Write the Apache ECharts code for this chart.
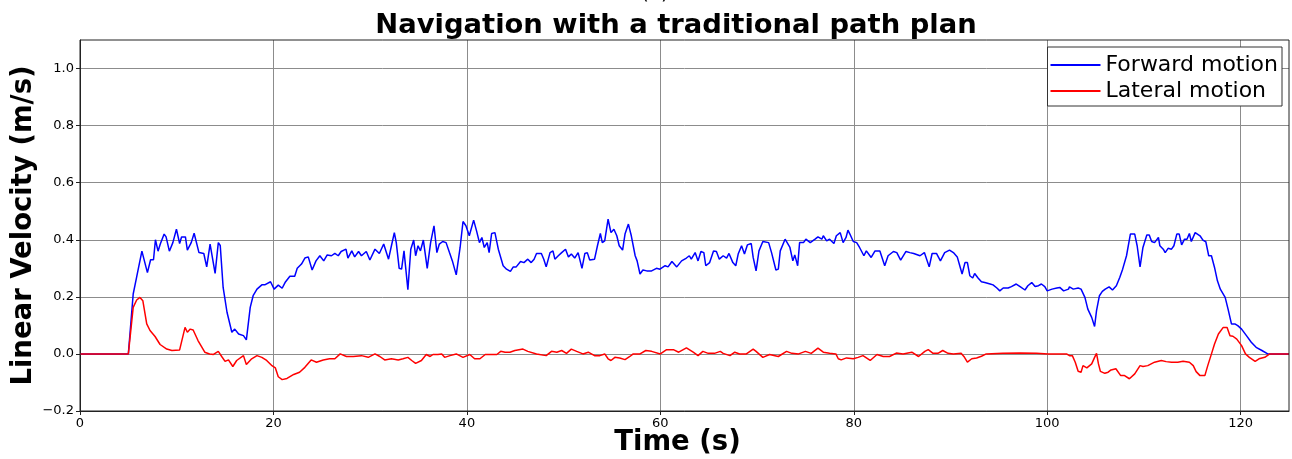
<!DOCTYPE html>
<html>
<head>
<meta charset="utf-8">
<script src="https://cdn.jsdelivr.net/npm/echarts@6/dist/echarts.min.js"></script>
<style>
html,body{margin:0;padding:0;background:#fff;}
#chart{width:1292px;height:459px;}
</style>
</head>
<body>
<div id="chart"></div>
<script>
var titleText = "Navigation with a traditional path plan";
var subTitleText = "(a)";
var xAxisName = "Time (s)";
var yAxisName = "Linear Velocity (m/s)";
var seriesNames = ["Forward motion", "Lateral motion"];
var xTicks = [0, 20, 40, 60, 80, 100, 120];
var yTicks = [-0.2, 0.0, 0.2, 0.4, 0.6, 0.8, 1.0];

// [time (s), velocity (m/s)]
var forwardMotion = [[0,0],[5.0,0],[5.5,0.21],[5.86,0.27],[6.4,0.36],[6.6,0.36],[6.97,0.285],[7.3,0.33],[7.6,0.33],[7.8,0.40],[8.07,0.36],[8.3,0.385],[8.7,0.42],[8.9,0.41],[9.24,0.36],[9.6,0.39],[9.97,0.437],[10.3,0.387],[10.5,0.41],[10.9,0.41],[11.1,0.364],[11.5,0.39],[11.8,0.423],[12.0,0.42],[12.3,0.355],[12.8,0.352],[13.1,0.305],[13.45,0.385],[13.6,0.383],[13.97,0.282],[14.3,0.39],[14.5,0.38],[14.8,0.233],[15.2,0.146],[15.7,0.076],[16.0,0.087],[16.4,0.07],[16.9,0.064],[17.2,0.049],[17.6,0.163],[17.9,0.204],[18.3,0.227],[18.8,0.242],[19.1,0.242],[19.7,0.253],[20.07,0.227],[20.5,0.241],[20.9,0.23],[21.2,0.25],[21.7,0.272],[22.2,0.272],[22.46,0.30],[22.9,0.315],[23.25,0.336],[23.6,0.34],[24.0,0.294],[24.4,0.326],[24.8,0.344],[25.2,0.326],[25.56,0.347],[26.0,0.344],[26.35,0.352],[26.7,0.344],[27.0,0.359],[27.5,0.367],[27.7,0.336],[28.1,0.361],[28.4,0.34],[28.8,0.359],[29.1,0.344],[29.6,0.359],[29.97,0.329],[30.5,0.367],[30.95,0.352],[31.4,0.385],[31.9,0.332],[32.2,0.379],[32.5,0.425],[32.7,0.39],[33.0,0.30],[33.25,0.297],[33.5,0.361],[33.9,0.225],[34.2,0.367],[34.5,0.399],[34.7,0.344],[34.95,0.379],[35.2,0.361],[35.5,0.399],[35.9,0.30],[36.25,0.39],[36.6,0.449],[36.9,0.355],[37.15,0.385],[37.5,0.394],[37.85,0.39],[38.2,0.355],[38.5,0.326],[38.9,0.277],[39.3,0.373],[39.6,0.464],[39.9,0.449],[40.25,0.414],[40.7,0.469],[41.0,0.431],[41.3,0.39],[41.55,0.408],[41.8,0.373],[42.1,0.39],[42.3,0.355],[42.56,0.422],[42.9,0.425],[43.25,0.367],[43.75,0.309],[44.1,0.297],[44.5,0.289],[44.8,0.305],[45.1,0.305],[45.55,0.324],[45.9,0.32],[46.3,0.332],[46.65,0.32],[46.95,0.332],[47.2,0.352],[47.7,0.352],[47.95,0.332],[48.2,0.305],[48.6,0.355],[48.9,0.361],[49.1,0.332],[49.45,0.344],[49.8,0.355],[50.2,0.367],[50.5,0.34],[50.8,0.35],[51.15,0.336],[51.5,0.355],[51.9,0.30],[52.2,0.352],[52.45,0.355],[52.7,0.329],[53.2,0.332],[53.5,0.379],[53.8,0.422],[54.0,0.39],[54.25,0.396],[54.6,0.472],[54.9,0.425],[55.2,0.437],[55.5,0.414],[55.75,0.379],[56.1,0.364],[56.35,0.42],[56.7,0.455],[57.0,0.414],[57.4,0.344],[57.6,0.326],[57.9,0.28],[58.2,0.294],[58.6,0.291],[59.1,0.291],[59.6,0.30],[59.96,0.297],[60.5,0.309],[60.8,0.305],[61.2,0.324],[61.7,0.305],[62.2,0.326],[62.7,0.336],[63.0,0.344],[63.2,0.332],[63.6,0.355],[63.9,0.326],[64.2,0.359],[64.5,0.355],[64.7,0.309],[65.1,0.32],[65.5,0.361],[65.8,0.359],[66.1,0.332],[66.5,0.344],[66.85,0.336],[67.1,0.352],[67.5,0.32],[67.8,0.309],[68.05,0.35],[68.4,0.379],[68.7,0.35],[69.0,0.382],[69.4,0.387],[69.6,0.338],[69.9,0.291],[70.2,0.361],[70.6,0.394],[71.2,0.39],[71.5,0.355],[71.95,0.294],[72.2,0.297],[72.4,0.361],[72.9,0.402],[73.4,0.373],[73.7,0.326],[73.9,0.347],[74.2,0.309],[74.4,0.39],[74.8,0.39],[75.05,0.402],[75.5,0.39],[76.0,0.402],[76.3,0.41],[76.7,0.402],[76.85,0.414],[77.2,0.396],[77.5,0.402],[77.95,0.387],[78.2,0.414],[78.6,0.425],[78.9,0.39],[79.2,0.408],[79.4,0.434],[79.6,0.42],[79.95,0.394],[80.3,0.39],[80.6,0.373],[81.05,0.344],[81.3,0.361],[81.8,0.338],[82.2,0.361],[82.7,0.361],[83.2,0.309],[83.55,0.344],[83.75,0.338],[84.1,0.359],[84.45,0.355],[84.85,0.329],[85.4,0.359],[85.8,0.355],[86.2,0.352],[86.85,0.344],[87.3,0.355],[87.5,0.35],[87.8,0.305],[88.1,0.352],[88.55,0.352],[88.96,0.326],[89.4,0.355],[89.9,0.364],[90.3,0.355],[90.7,0.34],[90.96,0.309],[91.2,0.28],[91.5,0.32],[91.75,0.32],[92.0,0.274],[92.3,0.266],[92.5,0.282],[92.85,0.266],[93.2,0.253],[93.55,0.25],[94.1,0.245],[94.4,0.242],[94.8,0.231],[95.1,0.221],[95.45,0.231],[95.96,0.231],[96.3,0.236],[96.8,0.245],[97.2,0.236],[97.7,0.224],[98.0,0.239],[98.4,0.25],[98.75,0.236],[99.1,0.239],[99.4,0.245],[99.75,0.236],[100.0,0.221],[100.5,0.227],[101.0,0.231],[101.3,0.233],[101.7,0.221],[102.2,0.227],[102.3,0.235],[102.7,0.227],[103.2,0.231],[103.5,0.227],[103.9,0.198],[104.2,0.157],[104.6,0.128],[104.9,0.096],[105.1,0.152],[105.4,0.204],[105.7,0.219],[106.0,0.227],[106.4,0.235],[106.75,0.224],[107.15,0.239],[107.5,0.268],[107.8,0.297],[108.2,0.344],[108.6,0.42],[109.05,0.42],[109.3,0.379],[109.6,0.305],[109.9,0.373],[110.3,0.417],[110.55,0.417],[110.8,0.394],[111.1,0.39],[111.5,0.408],[111.65,0.379],[112.0,0.367],[112.2,0.355],[112.5,0.37],[112.85,0.367],[113.1,0.379],[113.4,0.42],[113.65,0.42],[113.9,0.382],[114.2,0.402],[114.45,0.402],[114.7,0.422],[114.9,0.394],[115.3,0.425],[115.8,0.414],[116.1,0.399],[116.4,0.393],[116.7,0.344],[116.98,0.344],[117.3,0.303],[117.6,0.256],[117.9,0.227],[118.4,0.198],[118.7,0.157],[119.05,0.105],[119.4,0.105],[119.7,0.099],[120.1,0.087],[120.6,0.064],[121.1,0.041],[121.6,0.023],[122.2,0.012],[122.8,0],[125,0]];

var lateralMotion = [[0,0],[5.0,0],[5.5,0.163],[5.86,0.189],[6.2,0.198],[6.5,0.186],[6.9,0.105],[7.24,0.082],[7.76,0.061],[8.28,0.033],[8.97,0.017],[9.5,0.012],[10.3,0.014],[10.86,0.093],[11.1,0.076],[11.4,0.087],[11.7,0.084],[12.2,0.047],[12.9,0.006],[13.4,0],[13.8,-0.002],[14.3,0.009],[14.65,-0.009],[15.0,-0.026],[15.35,-0.021],[15.8,-0.044],[16.2,-0.023],[16.9,-0.006],[17.2,-0.037],[17.75,-0.017],[18.3,-0.006],[18.8,-0.012],[19.3,-0.023],[19.8,-0.04],[20.2,-0.049],[20.5,-0.08],[20.9,-0.09],[21.4,-0.086],[22.1,-0.072],[22.7,-0.064],[23.25,-0.047],[23.9,-0.021],[24.45,-0.029],[25.15,-0.021],[25.8,-0.017],[26.35,-0.017],[26.9,0.0],[27.55,-0.009],[28.25,-0.009],[29.1,-0.006],[29.8,-0.012],[30.5,0],[31.0,-0.009],[31.5,-0.021],[32.2,-0.017],[32.9,-0.021],[33.4,-0.017],[33.9,-0.012],[34.3,-0.023],[34.7,-0.033],[35.3,-0.023],[35.8,-0.002],[36.2,-0.009],[36.5,-0.002],[37.0,-0.002],[37.4,0],[37.7,-0.012],[38.25,-0.006],[38.9,0],[39.1,0.002],[39.6,-0.012],[40.3,-0.002],[40.8,-0.017],[41.35,-0.017],[41.9,-0.002],[42.4,-0.002],[43.1,-0.002],[43.5,0.009],[43.95,0.006],[44.45,0.006],[44.96,0.012],[45.8,0.017],[46.3,0.009],[47.2,0],[48.2,-0.006],[48.75,0.009],[49.3,0.006],[49.8,0.012],[50.3,0.002],[50.8,0.017],[51.35,0.009],[52.0,0],[52.55,0.006],[53.2,-0.006],[53.75,-0.006],[54.25,0],[54.6,-0.017],[54.9,-0.023],[55.3,-0.012],[55.8,-0.014],[56.35,-0.02],[56.85,-0.009],[57.2,0],[57.9,0],[58.5,0.012],[59.1,0.009],[60.0,0],[60.65,0.015],[61.35,0.015],[61.9,0.006],[62.7,0.021],[63.4,0.006],[63.9,-0.006],[64.4,0.009],[64.95,0.002],[65.6,0.002],[66.2,0.009],[66.5,0.002],[67.2,-0.006],[67.7,0.006],[68.2,0],[68.9,0],[69.6,0.017],[69.9,0.009],[70.6,-0.012],[71.3,-0.002],[72.2,-0.009],[73.05,0.009],[73.6,0.002],[74.3,0],[75.0,0.009],[75.6,0.002],[76.3,0.02],[76.85,0.006],[77.5,0.002],[78.15,0],[78.4,-0.017],[78.7,-0.021],[79.25,-0.014],[79.95,-0.017],[80.45,-0.012],[80.95,-0.006],[81.7,-0.023],[82.4,-0.002],[83.05,-0.009],[83.7,-0.009],[84.4,0.003],[85.1,0],[86.0,0.006],[86.7,-0.009],[87.35,0.009],[87.7,0.015],[88.2,0.002],[88.7,0.002],[89.2,0.012],[89.75,0.002],[90.3,0],[91.1,0.002],[91.45,-0.012],[91.75,-0.029],[92.2,-0.017],[92.7,-0.014],[93.2,-0.008],[93.7,0],[95.4,0.002],[97.2,0.003],[98.9,0.002],[100.1,0],[102.0,0],[102.3,-0.006],[102.6,-0.006],[102.9,-0.029],[103.2,-0.061],[103.5,-0.064],[103.7,-0.041],[104.1,-0.049],[104.6,-0.035],[104.9,-0.012],[105.1,0.002],[105.3,-0.035],[105.5,-0.061],[105.96,-0.068],[106.3,-0.064],[106.6,-0.056],[107.1,-0.052],[107.6,-0.076],[108.0,-0.076],[108.5,-0.087],[109.05,-0.07],[109.6,-0.041],[109.9,-0.044],[110.4,-0.041],[111.1,-0.029],[111.8,-0.023],[112.3,-0.027],[112.85,-0.029],[113.5,-0.029],[114.05,-0.026],[114.7,-0.029],[115.1,-0.041],[115.4,-0.062],[115.8,-0.076],[116.3,-0.076],[116.6,-0.041],[117.0,0.002],[117.3,0.035],[117.7,0.07],[118.2,0.093],[118.6,0.093],[118.9,0.064],[119.2,0.062],[119.6,0.052],[120.1,0.029],[120.5,0],[120.9,-0.012],[121.5,-0.026],[121.9,-0.017],[122.5,-0.012],[123.0,0],[125,0]];

var FONT = "DejaVu Sans";
var chart = echarts.init(document.getElementById('chart'), null, {renderer: 'canvas'});
function fmtY(v) {
  var s = (Math.round(v * 10) / 10).toFixed(1);
  if (s === "-0.0") s = "0.0";
  return s.replace('-', '\u2212');
}
var option = {
  animation: false,
  backgroundColor: '#fff',
  title: {
    text: titleText,
    left: 671, top: 7, textAlign: 'center',
    textStyle: {fontFamily: FONT, fontWeight: 'bold', fontSize: 27.4, color: '#000'}
  },
  legend: {
    orient: 'vertical', right: 10, top: 47,
    itemWidth: 50, itemHeight: 14, itemGap: 4, itemTextGap: 10,
    padding: [7, 4, 4, 3],
    borderColor: '#333', borderWidth: 1, borderRadius: 0,
    backgroundColor: '#fff',
    textStyle: {fontFamily: FONT, fontSize: 22, color: '#000'},
    data: seriesNames.map(function (n) { return {name: n, icon: 'path://M0,6 L50,6 L50,8 L0,8 Z'}; })
  },
  grid: {left: 80, right: 3, top: 40, bottom: 48, containLabel: false, outerBoundsMode: 'none'},
  xAxis: {
    type: 'value', min: 0, max: 125, interval: 20,
    name: xAxisName, nameLocation: 'middle', nameGap: 18, nameMoveOverlap: false,
    nameTextStyle: {fontFamily: FONT, fontWeight: 'bold', fontSize: 27.5, color: '#000', padding: [0, 14, 0, 0]},
    axisLine: {show: true, onZero: false, lineStyle: {color: '#222', width: 1}},
    axisTick: {show: true, length: 4, lineStyle: {color: '#222'}, customValues: xTicks},
    axisLabel: {fontFamily: FONT, fontSize: 13, color: '#000', margin: 6, customValues: xTicks,
      formatter: function (v) { return String(v); }},
    splitLine: {show: true, lineStyle: {color: '#8c8c8c', width: 1}}
  },
  yAxis: {
    type: 'value', min: -0.2, max: 1.1, interval: 0.2,
    name: yAxisName, nameLocation: 'middle', nameGap: 42, nameRotate: 90, nameMoveOverlap: false,
    nameTextStyle: {fontFamily: FONT, fontWeight: 'bold', fontSize: 27.5, color: '#000'},
    axisLine: {show: true, onZero: false, lineStyle: {color: '#222', width: 1}},
    axisTick: {show: true, length: 4, lineStyle: {color: '#222'}, customValues: yTicks},
    axisLabel: {fontFamily: FONT, fontSize: 13, color: '#000', margin: 6, customValues: yTicks,
      formatter: function (v) { return fmtY(v); }},
    splitLine: {show: true, lineStyle: {color: '#8c8c8c', width: 1}}
  },
  series: [
    {name: seriesNames[0], type: 'line', data: forwardMotion, symbol: 'none', smooth: false,
      lineStyle: {color: '#0000ff', width: 1.5}, itemStyle: {color: '#0000ff'}, z: 2},
    {name: seriesNames[1], type: 'line', data: lateralMotion, symbol: 'none', smooth: false,
      lineStyle: {color: '#ff0000', width: 1.5}, itemStyle: {color: '#ff0000'}, z: 3}
  ]
};
chart.setOption(option);
// box frame (top and right spines) and clipped sub-label
var gp = chart.convertToPixel({gridIndex: 0}, [0, -0.2]);
var gq = chart.convertToPixel({gridIndex: 0}, [125, 1.1]);
chart.setOption({graphic: [{
  type: 'text', left: 641, top: -16,
  style: {text: subTitleText, fontFamily: FONT, fontSize: 20, fill: '#000'}
}, {
  type: 'rect', shape: {x: gp[0], y: gq[1], width: gq[0] - gp[0], height: gp[1] - gq[1]},
  style: {fill: 'none', stroke: '#222', lineWidth: 1}, z: 10, silent: true
}]});
</script>
</body>
</html>
